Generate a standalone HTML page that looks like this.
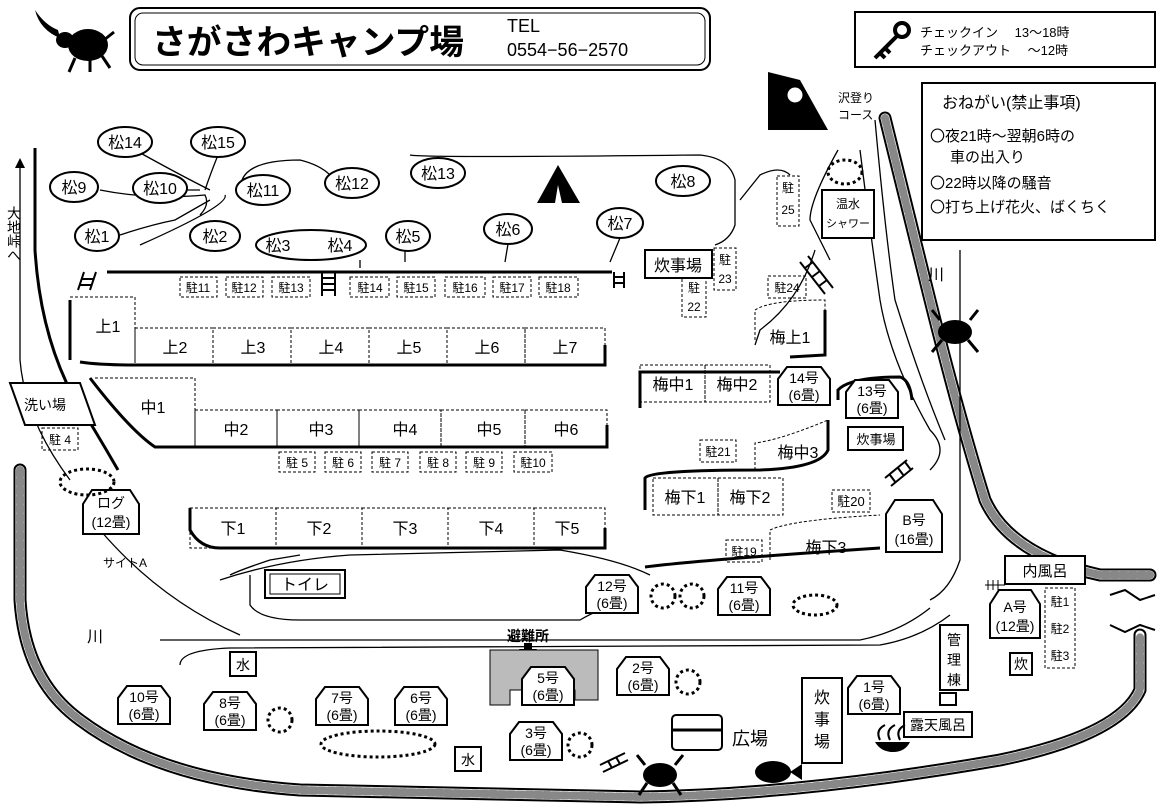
<!DOCTYPE html>
<html><head><meta charset="utf-8"><style>
body{margin:0;background:#fff}
svg{display:block}
text{font-family:"Liberation Sans","Noto Sans CJK JP",sans-serif;fill:#000}
.b{fill:#fff;stroke:#000;stroke-width:2}
.d{fill:none;stroke:#000;stroke-width:1;stroke-dasharray:3 2}
.p{fill:none;stroke:#000;stroke-width:3}
.t{fill:none;stroke:#000;stroke-width:1.3}
</style></head><body>
<svg width="1167" height="811" viewBox="0 0 1167 811" xmlns="http://www.w3.org/2000/svg">
<!-- rivers -->
<g fill="none" stroke-linecap="round" stroke-linejoin="round">
<path d="M20 470 L20 600 Q25 680 80 720 Q160 780 300 790 L640 797 Q800 795 1000 760 Q1120 735 1140 690 L1140 635 M885 118 Q905 200 930 300 Q960 420 985 500 Q1010 555 1100 575 L1150 575" stroke="#000" stroke-width="13"/>
<path d="M20 470 L20 600 Q25 680 80 720 Q160 780 300 790 L640 797 Q800 795 1000 760 Q1120 735 1140 690 L1140 635 M885 118 Q905 200 930 300 Q960 420 985 500 Q1010 555 1100 575 L1150 575" stroke="#fff" stroke-width="9"/>
<path d="M20 470 L20 600 Q25 680 80 720 Q160 780 300 790 L640 797 Q800 795 1000 760 Q1120 735 1140 690 L1140 635 M885 118 Q905 200 930 300 Q960 420 985 500 Q1010 555 1100 575 L1150 575" stroke="#888" stroke-width="8" stroke-dasharray="6 3"/>
</g>
<!-- header -->
<rect x="130" y="8" width="580" height="62" rx="10" class="b"/>
<rect x="135" y="13" width="570" height="52" rx="8" fill="none" stroke="#000" stroke-width="1"/>
<text x="152" y="54" font-size="34" font-weight="bold" textLength="312" lengthAdjust="spacingAndGlyphs">さがさわキャンプ場</text>
<text x="507" y="32" font-size="18">TEL</text>
<text x="507" y="56" font-size="18">0554−56−2570</text>
<!-- beetle -->
<g>
<ellipse cx="88" cy="45" rx="20" ry="16"/>
<ellipse cx="65" cy="40" rx="9" ry="8"/>
<path d="M60 38 Q40 30 35 10 Q45 25 58 30" fill="#000"/>
<path d="M75 58 l-6 14 M90 60 l0 12 M102 56 l8 12 M104 40 l10 -8" stroke="#000" stroke-width="3"/>
</g>
<!-- key box -->
<rect x="855" y="12" width="300" height="55" class="b" stroke-width="1.5"/>
<text x="920" y="37" font-size="13">チェックイン　 13〜18時</text>
<text x="920" y="55" font-size="13">チェックアウト　 〜12時</text>
<circle cx="902" cy="30" r="7" fill="none" stroke="#000" stroke-width="4"/>
<path d="M897 36 L875 58 M880 53 l5 5 M885 48 l5 5" stroke="#000" stroke-width="4"/>
<!-- notes -->
<rect x="922" y="83" width="233" height="157" class="b" stroke-width="1.5"/>
<text x="942" y="108" font-size="16">おねがい(禁止事項)</text>
<text x="930" y="141" font-size="15">〇夜21時〜翌朝6時の</text>
<text x="950" y="162" font-size="15">車の出入り</text>
<text x="930" y="188" font-size="15">〇22時以降の騒音</text>
<text x="930" y="212" font-size="15">〇打ち上げ花火、ばくちく</text>
<!-- climber -->
<path d="M768 72 L768 130 L828 130 L800 80 Z" fill="#000"/>
<circle cx="795" cy="95" r="8" fill="#fff" stroke="#000"/>
<text x="838" y="102" font-size="12">沢登り</text>
<text x="838" y="119" font-size="12">コース</text>
<!-- roads -->
<path class="p" d="M35 148 L35 250 Q40 330 70 390 Q95 430 118 470"/>
<path class="t" d="M20 160 L20 360 Q25 420 70 480"/>
<path d="M20 158 l-5 10 h10z"/>
<text x="14" y="206" font-size="14" writing-mode="tb">大地峠へ</text>
<path class="p" d="M107 272 L612 272"/>
<path class="t" d="M360 260 L360 268"/>
<path class="p" d="M70 360 L70 300"/>
<path class="p" d="M80 362 Q100 365 135 365 L605 365 L605 345"/>
<path class="p" d="M90 378 Q130 430 155 447 L607 447 L607 425"/>
<path class="p" d="M190 508 L190 530 Q200 548 220 548 L605 548 L605 528"/>
<path class="t" d="M410 155 Q420 158 700 155 Q730 158 735 180 L735 225 Q730 240 715 245"/>
<path class="t" d="M230 575 Q240 570 270 560 Q300 555 300 555"/>
<path class="t" d="M100 530 Q160 600 240 635"/>
<path class="t" d="M250 575 L250 605 Q260 620 300 620 L580 620 Q600 608 620 605"/>
<path class="t" d="M220 580 Q280 560 350 555 L560 550 Q620 560 650 575"/>
<path class="t" d="M160 640 L860 640 Q900 632 930 608"/>
<path class="t" d="M180 665 Q180 650 230 648 L880 645 Q920 638 950 615"/>
<path class="t" d="M860 150 Q870 230 880 300 Q890 360 930 430 Q950 450 930 470"/>
<path class="t" d="M875 120 Q885 230 895 300 Q920 380 945 440"/>
<path class="t" d="M960 250 L960 560 Q950 590 930 600"/>
<path class="p" d="M640 408 L640 372 L780 372"/>
<path class="p" d="M825 310 L825 355 L790 357"/>
<path class="p" d="M838 400 L838 390 Q850 377 900 377 Q910 380 912 400"/>
<path class="p" d="M645 510 L645 478 Q650 470 760 470 Q820 468 828 450 L828 420"/>
<path class="p" d="M645 567 Q700 560 880 548"/>
<path class="t" d="M815 250 Q800 300 760 330 L755 345"/>
<path class="t" d="M838 150 Q810 200 810 220 L830 260"/>
<path class="t" d="M740 200 L760 175 Q780 165 790 175"/>
<!-- tree bubbles -->
<g font-size="16" text-anchor="middle">
<path class="t" d="M135 150 Q180 175 210 190 M218 155 Q210 175 205 190 M170 190 L200 190 M100 190 Q150 200 205 195 Q210 205 200 215 M120 235 Q150 225 175 220 L210 200 M242 180 Q250 160 300 160 Q320 165 330 175 M225 195 Q230 205 140 245"/>
<ellipse cx="125" cy="142" rx="27" ry="15" class="b" stroke-width="1.3"/><text x="125" y="148">松14</text>
<ellipse cx="218" cy="142" rx="27" ry="15" class="b" stroke-width="1.3"/><text x="218" y="148">松15</text>
<ellipse cx="74" cy="187" rx="24" ry="15" class="b" stroke-width="1.3"/><text x="74" y="193">松9</text>
<ellipse cx="160" cy="188" rx="27" ry="15" class="b" stroke-width="1.3"/><text x="160" y="194">松10</text>
<ellipse cx="263" cy="190" rx="27" ry="15" class="b" stroke-width="1.3"/><text x="263" y="196">松11</text>
<ellipse cx="352" cy="183" rx="27" ry="15" class="b" stroke-width="1.3"/><text x="352" y="189">松12</text>
<ellipse cx="438" cy="173" rx="27" ry="15" class="b" stroke-width="1.3"/><text x="438" y="179">松13</text>
<ellipse cx="683" cy="181" rx="27" ry="15" class="b" stroke-width="1.3"/><text x="683" y="187">松8</text>
<ellipse cx="97" cy="236" rx="22" ry="15" class="b" stroke-width="1.3"/><text x="97" y="242">松1</text>
<ellipse cx="215" cy="236" rx="25" ry="15" class="b" stroke-width="1.3"/><text x="215" y="242">松2</text>
<ellipse cx="311" cy="245" rx="55" ry="15" class="b" stroke-width="1.3"/><text x="278" y="251">松3</text><text x="340" y="251">松4</text>
<ellipse cx="408" cy="236" rx="22" ry="15" class="b" stroke-width="1.3"/><text x="408" y="242">松5</text>
<ellipse cx="508" cy="229" rx="24" ry="15" class="b" stroke-width="1.3"/><text x="508" y="235">松6</text>
<ellipse cx="620" cy="223" rx="23" ry="15" class="b" stroke-width="1.3"/><text x="620" y="229">松7</text>
</g>
<path class="t" d="M405 251 L405 262 M508 244 L505 262 M620 238 L610 262"/>
<path d="M537 203 L558 165 L580 203 Z"/><path d="M555 203 L558 185 L562 203Z" fill="#fff"/>
<!-- parking -->
<g font-size="12" text-anchor="middle">
<rect x="180" y="277" width="37" height="20" class="d"/><text x="198" y="292">駐11</text>
<rect x="226" y="277" width="37" height="20" class="d"/><text x="244" y="292">駐12</text>
<rect x="272" y="277" width="38" height="20" class="d"/><text x="291" y="292">駐13</text>
<rect x="350" y="277" width="39" height="20" class="d"/><text x="370" y="292">駐14</text>
<rect x="397" y="277" width="38" height="20" class="d"/><text x="416" y="292">駐15</text>
<rect x="445" y="277" width="40" height="20" class="d"/><text x="465" y="292">駐16</text>
<rect x="493" y="277" width="38" height="20" class="d"/><text x="512" y="292">駐17</text>
<rect x="539" y="277" width="39" height="20" class="d"/><text x="558" y="292">駐18</text>
<rect x="279" y="452" width="36" height="20" class="d"/><text x="297" y="467">駐 5</text>
<rect x="325" y="452" width="36" height="20" class="d"/><text x="343" y="467">駐 6</text>
<rect x="372" y="452" width="36" height="20" class="d"/><text x="390" y="467">駐 7</text>
<rect x="420" y="452" width="36" height="20" class="d"/><text x="438" y="467">駐 8</text>
<rect x="466" y="452" width="36" height="20" class="d"/><text x="484" y="467">駐 9</text>
<rect x="514" y="452" width="38" height="20" class="d"/><text x="533" y="467">駐10</text>
<rect x="42" y="428" width="36" height="22" class="d"/><text x="60" y="444">駐 4</text>
<rect x="700" y="440" width="36" height="22" class="d"/><text x="718" y="456">駐21</text>
<rect x="832" y="490" width="38" height="22" class="d"/><text x="851" y="506" font-size="13">駐20</text>
<rect x="726" y="540" width="36" height="22" class="d"/><text x="744" y="556">駐19</text>
<rect x="768" y="276" width="38" height="22" class="d"/><text x="787" y="292">駐24</text>
<rect x="714" y="248" width="22" height="42" class="d"/><text x="725" y="264">駐</text><text x="725" y="283">23</text>
<rect x="682" y="275" width="24" height="42" class="d"/><text x="694" y="292">駐</text><text x="694" y="311">22</text>
<rect x="777" y="176" width="22" height="50" class="d"/><text x="788" y="192">駐</text><text x="788" y="214">25</text>
<rect x="1045" y="588" width="30" height="80" class="d"/><text x="1060" y="606">駐1</text><text x="1060" y="633">駐2</text><text x="1060" y="660">駐3</text>
</g>
<!-- ladders -->
<g stroke="#000" stroke-width="2">
<path d="M322 272 v24 M335 272 v24 M322 278 h13 M322 284 h13 M322 290 h13"/>
<path d="M614 272 v16 M624 272 v16 M614 277 h10 M614 283 h10"/>
<path d="M78 290 l6 -18 M90 290 l6 -18 M80 285 h12 M82 279 h12"/>
<path d="M800 262 l25 32 M808 256 l25 32 M805 268 l8 -6 M812 277 l8 -6 M819 286 l8 -6"/>
<path d="M885 478 l22 -18 M891 486 l22 -18 M890 475 l6 8 M898 468 l6 8 M905 462 l6 8"/>
<path d="M600 765 l25 -12 M603 772 l25 -12 M608 761 l4 7 M616 757 l4 7"/>
</g>
<!-- sites -->
<g font-size="16" text-anchor="middle">
<path class="d" d="M70 297 L135 297 L135 360"/><text x="108" y="332">上1</text>
<rect x="135" y="328" width="78" height="37" class="d"/><text x="175" y="353">上2</text>
<rect x="213" y="328" width="78" height="37" class="d"/><text x="253" y="353">上3</text>
<rect x="291" y="328" width="78" height="37" class="d"/><text x="331" y="353">上4</text>
<rect x="369" y="328" width="78" height="37" class="d"/><text x="409" y="353">上5</text>
<rect x="447" y="328" width="78" height="37" class="d"/><text x="487" y="353">上6</text>
<rect x="525" y="328" width="80" height="37" class="d"/><text x="565" y="353">上7</text>
<path class="d" d="M95 378 L195 378 L195 447"/><text x="153" y="413">中1</text>
<rect x="195" y="410" width="82" height="37" class="d"/><text x="236" y="435">中2</text>
<rect x="277" y="410" width="82" height="37" class="d"/><text x="321" y="435">中3</text>
<rect x="359" y="410" width="82" height="37" class="d"/><text x="405" y="435">中4</text>
<rect x="441" y="410" width="84" height="37" class="d"/><text x="489" y="435">中5</text>
<rect x="525" y="410" width="82" height="37" class="d"/><text x="566" y="435">中6</text>
<rect x="190" y="508" width="86" height="40" class="d"/><text x="233" y="534">下1</text>
<rect x="276" y="508" width="86" height="40" class="d"/><text x="319" y="534">下2</text>
<rect x="362" y="508" width="86" height="40" class="d"/><text x="405" y="534">下3</text>
<rect x="448" y="508" width="86" height="40" class="d"/><text x="491" y="534">下4</text>
<rect x="534" y="508" width="71" height="40" class="d"/><text x="567" y="534">下5</text>
<rect x="640" y="365" width="65" height="37" class="d"/><text x="673" y="390">梅中1</text>
<rect x="705" y="365" width="65" height="37" class="d"/><text x="737" y="390">梅中2</text>
<path class="d" d="M755 340 L755 310 Q770 300 825 300 L825 355"/><text x="790" y="343">梅上1</text>
<path class="d" d="M755 470 L755 443 Q780 440 828 420"/><text x="798" y="458">梅中3</text>
<rect x="653" y="478" width="65" height="37" class="d"/><text x="685" y="503">梅下1</text>
<rect x="718" y="478" width="65" height="37" class="d"/><text x="750" y="503">梅下2</text>
<path class="d" d="M770 560 L770 530 Q790 520 880 515"/><text x="826" y="553">梅下3</text>
</g>
<!-- buildings -->
<g font-size="14" text-anchor="middle">
<rect x="645" y="250" width="67" height="28" class="b" stroke-width="1.3"/><text x="678" y="271" font-size="16">炊事場</text>
<rect x="822" y="190" width="52" height="48" class="b" stroke-width="1.3"/><text x="848" y="208" font-size="12">温水</text><text x="848" y="227" font-size="11">シャワー</text>
<ellipse cx="845" cy="172" rx="17" ry="12" fill="none" stroke="#000" stroke-width="3" stroke-dasharray="3 3"/>
<rect x="848" y="427" width="55" height="23" class="b" stroke-width="1.3"/><text x="876" y="444" font-size="13">炊事場</text>
<rect x="1005" y="556" width="80" height="28" class="b" stroke-width="1.3"/><text x="1045" y="576" font-size="15">内風呂</text>
<rect x="940" y="625" width="28" height="65" class="b" stroke-width="1.3"/><text x="954" y="645">管</text><text x="954" y="665">理</text><text x="954" y="685">棟</text>
<rect x="940" y="693" width="16" height="12" class="b" stroke-width="1.3"/>
<rect x="904" y="712" width="68" height="25" class="b" stroke-width="1.3"/><text x="938" y="730">露天風呂</text>
<rect x="802" y="678" width="40" height="85" class="b" stroke-width="1.3"/><text x="822" y="703" font-size="16">炊</text><text x="822" y="725" font-size="16">事</text><text x="822" y="747" font-size="16">場</text>
<rect x="1010" y="653" width="22" height="22" class="b" stroke-width="1.3"/><text x="1021" y="669">炊</text>
<rect x="265" y="570" width="80" height="28" class="b" stroke-width="1.3"/><rect x="270" y="574" width="70" height="20" fill="none" stroke="#000"/><text x="305" y="590" font-size="16">トイレ</text>
<rect x="230" y="652" width="26" height="24" class="b" stroke-width="1.3"/><text x="243" y="670">水</text>
<rect x="455" y="747" width="26" height="24" class="b" stroke-width="1.3"/><text x="468" y="765">水</text>
<path d="M10 383 L80 383 L95 425 L25 425 Z" class="b" stroke-width="1.3"/><text x="45" y="410">洗い場</text>
<text x="125" y="567" font-size="12">サイトA</text>
<text x="95" y="642" font-size="16">川</text>
<text x="936" y="280" font-size="16">川</text>
<text x="750" y="745" font-size="18">広場</text>
<text x="528" y="641" font-size="14" font-weight="bold">避難所</text>
<path d="M524 643 h8 v6 h5 l-9 8 l-9 -8 h5z"/>
</g>
<path d="M490 650 L598 650 L598 700 L575 700 L575 690 L510 690 L510 705 L490 705Z" fill="#bbb" stroke="#000"/>
<!-- cabins -->
<g font-size="14" text-anchor="middle">
<g transform="translate(778,367)"><path d="M0 38 V12 L9 0 H43 L52 12 V38 Z" class="b"/><text x="26" y="16">14号</text><text x="26" y="33">(6畳)</text></g>
<g transform="translate(846,380)"><path d="M0 38 V12 L9 0 H43 L52 12 V38 Z" class="b"/><text x="26" y="16">13号</text><text x="26" y="33">(6畳)</text></g>
<g transform="translate(886,500)"><path d="M0 52 V14 L9 0 H47 L56 14 V52 Z" class="b"/><text x="28" y="25">B号</text><text x="28" y="44">(16畳)</text></g>
<g transform="translate(83,490)"><path d="M0 44 V14 L9 0 H47 L56 14 V44 Z" class="b"/><text x="28" y="18">ログ</text><text x="28" y="37">(12畳)</text></g>
<g transform="translate(586,575)"><path d="M0 38 V12 L9 0 H43 L52 12 V38 Z" class="b"/><text x="26" y="16">12号</text><text x="26" y="33">(6畳)</text></g>
<g transform="translate(718,577)"><path d="M0 38 V12 L9 0 H43 L52 12 V38 Z" class="b"/><text x="26" y="16">11号</text><text x="26" y="33">(6畳)</text></g>
<g transform="translate(990,590)"><path d="M0 48 V14 L9 0 H41 L50 14 V48 Z" class="b"/><text x="25" y="22">A号</text><text x="25" y="41">(12畳)</text></g>
<g transform="translate(617,657)"><path d="M0 38 V12 L9 0 H43 L52 12 V38 Z" class="b"/><text x="26" y="16">2号</text><text x="26" y="33">(6畳)</text></g>
<g transform="translate(522,667)"><path d="M0 38 V12 L9 0 H43 L52 12 V38 Z" class="b"/><text x="26" y="16">5号</text><text x="26" y="33">(6畳)</text></g>
<g transform="translate(848,676)"><path d="M0 38 V12 L9 0 H43 L52 12 V38 Z" class="b"/><text x="26" y="16">1号</text><text x="26" y="33">(6畳)</text></g>
<g transform="translate(118,686)"><path d="M0 38 V12 L9 0 H43 L52 12 V38 Z" class="b"/><text x="26" y="16">10号</text><text x="26" y="33">(6畳)</text></g>
<g transform="translate(204,692)"><path d="M0 38 V12 L9 0 H43 L52 12 V38 Z" class="b"/><text x="26" y="16">8号</text><text x="26" y="33">(6畳)</text></g>
<g transform="translate(316,687)"><path d="M0 38 V12 L9 0 H43 L52 12 V38 Z" class="b"/><text x="26" y="16">7号</text><text x="26" y="33">(6畳)</text></g>
<g transform="translate(395,687)"><path d="M0 38 V12 L9 0 H43 L52 12 V38 Z" class="b"/><text x="26" y="16">6号</text><text x="26" y="33">(6畳)</text></g>
<g transform="translate(510,722)"><path d="M0 38 V12 L9 0 H43 L52 12 V38 Z" class="b"/><text x="26" y="16">3号</text><text x="26" y="33">(6畳)</text></g>
</g>
<!-- dotted circles -->
<g fill="none" stroke="#000" stroke-width="3" stroke-dasharray="3 3">
<ellipse cx="87" cy="482" rx="27" ry="13"/>
<circle cx="663" cy="596" r="12"/><circle cx="692" cy="596" r="12"/>
<ellipse cx="815" cy="605" rx="22" ry="10"/>
<circle cx="688" cy="682" r="12"/>
<circle cx="280" cy="720" r="12"/>
<ellipse cx="378" cy="744" rx="57" ry="13"/>
<circle cx="580" cy="745" r="12"/>
</g>
<!-- crabs / fish / chest -->
<g>
<ellipse cx="955" cy="332" rx="17" ry="12"/><path d="M940 320 l-8 -10 M970 320 l8 -10 M942 340 l-10 12 M968 340 l10 12" stroke="#000" stroke-width="3"/>
<ellipse cx="660" cy="775" rx="17" ry="12"/><path d="M645 765 l-8 -10 M675 765 l8 -10 M647 783 l-8 12 M673 783 l8 12" stroke="#000" stroke-width="3"/>
<ellipse cx="773" cy="772" rx="18" ry="11"/><path d="M790 772 l12 -8 v16z"/>
<rect x="672" y="715" width="50" height="35" rx="4" class="b"/><path d="M672 730 h50" stroke="#000" stroke-width="3"/>
<path d="M880 740 q-5 -10 5 -15 M890 740 q-5 -10 5 -15 M900 740 q-5 -10 5 -15" stroke="#000" fill="none" stroke-width="2"/>
<path d="M875 742 h35 q-5 10 -17 10 q-12 0 -18 -10z"/>
</g>
<path d="M985 585 h20 M988 580 v10 M993 580 v10 M998 580 v10" stroke="#000"/>
<path d="M1110 595 L1125 590 L1140 600 L1155 595 M1110 625 L1125 632 L1140 625 L1155 630" stroke="#000" stroke-width="2" fill="none"/>
</svg>
</body></html>
